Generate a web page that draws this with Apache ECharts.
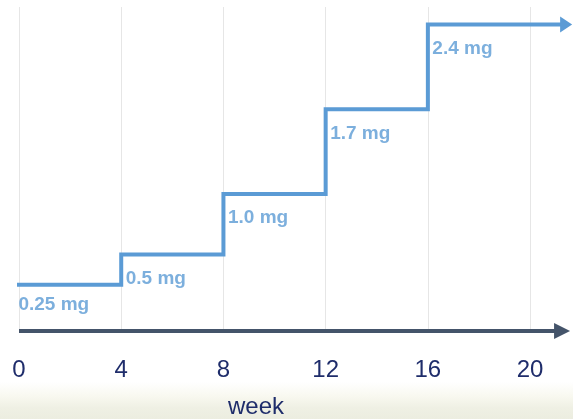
<!DOCTYPE html>
<html>
<head>
<meta charset="utf-8">
<script src="https://cdn.jsdelivr.net/npm/echarts@6/dist/echarts.min.js"></script>
<style>
  html, body { margin: 0; padding: 0; background: #fff; }
  #chart { width: 573px; height: 419px; }
</style>
</head>
<body>
<div id="chart"></div>
<script>
  // dose schedule
  const stepWeeks = [0, 4, 8, 12, 16];
  const doses = [0.25, 0.5, 1.0, 1.7, 2.4];
  const doseLabels = ['0.25 mg', '0.5 mg', '1.0 mg', '1.7 mg', '2.4 mg'];
  const weekTicks = [0, 4, 8, 12, 16, 20];

  // line runs a little past the axis on both ends
  const lineStart = -0.2;
  const lineEnd = 21.41;
  const axisEnd = 21.25;
  const xMax = 21.64;
  const yMin = -0.132;
  const yMax = 2.545;

  const blue = '#5B9BD5';
  const navy = '#1F2D6B';
  const gridGray = '#E6E6E6';

  const stepData = stepWeeks.map((w, i) => [i === 0 ? lineStart : w, doses[i]]);
  const lineData = stepData.concat([[lineEnd, doses[doses.length - 1]]]);
  const axisData = [[weekTicks[0], yMin], [axisEnd, yMin]];

  // only the last point of a series gets the arrow head
  const arrowHead = (value, params, count) =>
    params.dataIndex === count - 1 ? 'triangle' : 'none';

  const chart = echarts.init(document.getElementById('chart'));

  chart.setOption({
    animation: false,
    backgroundColor: '#fff',
    graphic: [
      {
        type: 'rect',
        z: -10,
        shape: { x: 0, y: 382, width: 573, height: 37 },
        style: {
          fill: {
            type: 'linear', x: 0, y: 0, x2: 0, y2: 1,
            colorStops: [
              { offset: 0, color: '#ffffff' },
              { offset: 0.4, color: '#f8f8ef' },
              { offset: 0.7, color: '#eff0e4' },
              { offset: 1, color: '#ecede0' }
            ]
          }
        }
      }
    ],
    title: {
      text: 'week',
      left: 228,
      top: 395,
      padding: 0,
      textStyle: {
        color: navy,
        fontFamily: 'Liberation Sans',
        fontWeight: 'normal',
        fontSize: 24
      }
    },
    grid: { left: 19, right: 1, top: 7, bottom: 88 },
    xAxis: {
      type: 'value',
      min: weekTicks[0],
      max: xMax,
      interval: 4,
      axisLine: { show: false },
      axisTick: {
        show: true,
        customValues: weekTicks,
        length: 14,
        lineStyle: { color: gridGray, width: 1 }
      },
      axisLabel: {
        customValues: weekTicks,
        color: navy,
        fontFamily: 'Liberation Sans',
        fontSize: 24,
        margin: 27
      },
      splitLine: {
        show: true,
        lineStyle: { color: gridGray, width: 1 }
      }
    },
    yAxis: {
      type: 'value',
      show: false,
      min: yMin,
      max: yMax,
      splitLine: { show: false }
    },
    series: [
      {
        // week axis with arrow
        type: 'line',
        data: axisData,
        showSymbol: true,
        symbol: (v, p) => arrowHead(v, p, axisData.length),
        symbolSize: [16, 16],
        symbolRotate: -90,
        itemStyle: { color: '#44546A' },
        lineStyle: { color: '#44546A', width: 4 },
        silent: true,
        clip: false,
        z: 3
      },
      {
        name: 'dose',
        type: 'line',
        step: 'end',
        data: lineData,
        showSymbol: true,
        symbol: (v, p) => arrowHead(v, p, lineData.length),
        symbolSize: [16, 12],
        symbolRotate: -90,
        itemStyle: { color: blue },
        clip: false,
        silent: true,
        z: 4,
        lineStyle: { color: blue, width: 4, join: 'miter', cap: 'butt' }
      },
      {
        name: 'labels',
        type: 'scatter',
        data: stepData.map((d, i) => ({
          value: d,
          label: { position: i === 0 ? [5, 11] : [5, 15] }
        })),
        symbolSize: 1,
        itemStyle: { color: 'rgba(0,0,0,0)' },
        clip: false,
        silent: true,
        z: 5,
        label: {
          show: true,
          formatter: p => doseLabels[p.dataIndex],
          color: blue,
          fontFamily: 'Liberation Sans',
          fontWeight: 'bold',
          fontSize: 19
        }
      }
    ]
  });
</script>
</body>
</html>
